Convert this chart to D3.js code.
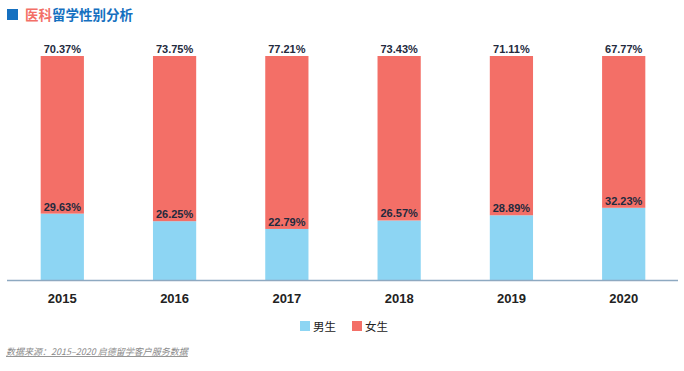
<!DOCTYPE html>
<html>
<head>
<meta charset="utf-8">
<script src="https://cdn.jsdelivr.net/npm/d3@7"></script>
<style>
  body { margin: 0; background: #fff; }
  svg { display: block; font-family: "Liberation Sans", Arial, sans-serif; }
</style>
</head>
<body>
<svg id="chart" width="684" height="371"></svg>
<script>
const YEARS = ["2015", "2016", "2017", "2018", "2019", "2020"];
const MALE = [29.63, 26.25, 22.79, 26.57, 28.89, 32.23];
const FEMALE = [70.37, 73.75, 77.21, 73.43, 71.11, 67.77];
const SERIES = ["男生", "女生"];
const COLORS = ["#8dd5f3", "#f36f67"];

const svg = d3.select("#chart");

// layout
const config = { left: 7, right: 678, top: 56, bottom: 280 };

// title
svg.append("rect").attr("x", 7).attr("y", 9).attr("width", 11).attr("height", 11).attr("fill", "#1570c0");
const title = svg.append("text")
  .attr("x", 25).attr("y", 20)
  .attr("font-family", "'Noto Sans CJK SC', sans-serif")
  .attr("font-weight", "bold")
  .attr("font-size", 13.5);
title.append("tspan").attr("fill", "#f36f67").text("医科");
title.append("tspan").attr("fill", "#1570c0").text("留学性别分析");

// scales
const xScale = d3.scaleBand()
  .domain(YEARS)
  .range([7, 679])
  .paddingInner(0.615)
  .paddingOuter(0.3);

const yScale = d3.scaleLinear().domain([0, 100]).range([config.bottom, config.top]);

const data = YEARS.map((year, i) => ({ year, male: MALE[i], female: FEMALE[i] }));
const stacked = d3.stack().keys(["male", "female"])(data);

// bars
svg.append("g")
  .selectAll("g")
  .data(stacked)
  .join("g")
  .attr("fill", (d, i) => COLORS[i])
  .selectAll("rect")
  .data((d) => d)
  .join("rect")
  .attr("x", (d) => xScale(d.data.year))
  .attr("y", (d) => yScale(d[1]))
  .attr("width", xScale.bandwidth())
  .attr("height", (d) => yScale(d[0]) - yScale(d[1]));

// x axis
const xAxis = svg.append("g")
  .attr("transform", `translate(0, ${config.bottom})`)
  .call(d3.axisBottom(xScale).tickSize(0).tickPadding(14));
xAxis.select(".domain").attr("stroke", "#8ea9c1").attr("stroke-width", 1.5).attr("d", `M${config.left},0.5H${config.right}`);
xAxis.selectAll("text")
  .attr("font-size", 13)
  .attr("font-weight", "bold")
  .attr("fill", "#222");

// value labels
const labels = svg.append("g")
  .attr("font-size", 11)
  .attr("font-weight", "bold")
  .attr("fill", "#232a3d")
  .attr("text-anchor", "middle");
data.forEach((d) => {
  const cx = xScale(d.year) + xScale.bandwidth() / 2;
  labels.append("text").attr("x", cx).attr("y", yScale(d.male) - 3).text(d.male.toFixed(2) + "%");
  labels.append("text").attr("x", cx).attr("y", yScale(100) - 3.5).text(d.female.toFixed(2) + "%");
});

// legend
const legend = svg.append("g")
  .attr("font-family", "'Noto Sans CJK SC', sans-serif")
  .attr("font-size", 11.5)
  .attr("fill", "#222");
SERIES.forEach((s, i) => {
  const x = 300 + i * 52;
  legend.append("rect").attr("x", x).attr("y", 321).attr("width", 10).attr("height", 10).attr("fill", COLORS[i]);
  legend.append("text").attr("x", x + 13).attr("y", 330.5).text(s);
});

// source note
svg.append("text")
  .attr("x", 6).attr("y", 355)
  .attr("font-family", "'Noto Sans CJK SC', sans-serif")
  .attr("font-style", "italic")
  .attr("font-size", 9)
  .attr("fill", "#8a8a8a")
  .attr("text-decoration", "underline")
  .text("数据来源：2015–2020 启德留学客户服务数据");
</script>
</body>
</html>
